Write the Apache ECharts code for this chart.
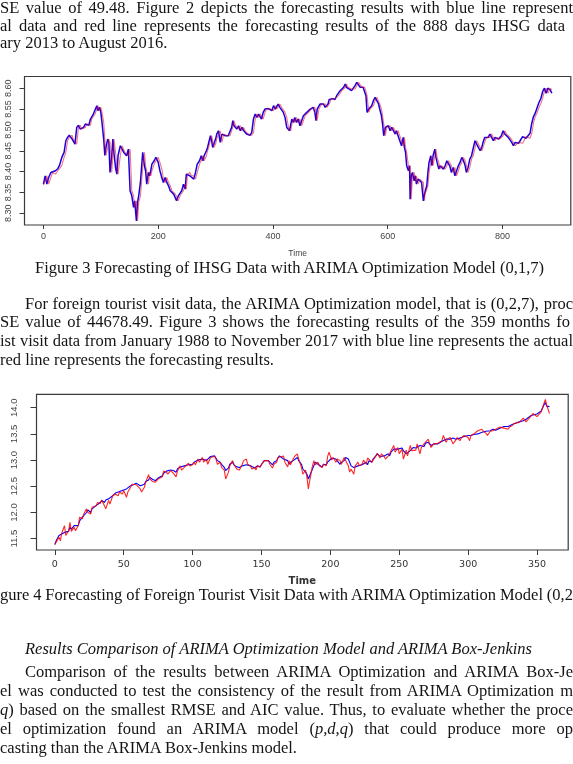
<!DOCTYPE html>
<html>
<head>
<meta charset="utf-8">
<script src="https://cdn.jsdelivr.net/npm/echarts@6/dist/echarts.min.js"></script>
<style>
  html, body { margin: 0; padding: 0; background: #fff; }
  #page { position: relative; width: 573px; height: 764px; overflow: hidden; background: #fff; }
  #chart { position: absolute; left: 0; top: 0; width: 573px; height: 764px; }
  .ln { position: absolute; white-space: pre; font: 16.5px/1 "Liberation Serif", "Times New Roman", serif; color: #141414; }
  .it { font-style: italic; }
</style>
</head>
<body>
<div id="page">
  <div id="chart"></div>
</div>
<script>
// IHSG (log) - day index, actual (blue), forecast (red)
var days1 = [
  0,3,6,9,13,16,21,25,28,32,
  36,39,42,45,50,52,55,58,61,64,
  67,70,73,76,79,82,84,87,90,93,
  95,98,100,102,105,107,109,112,114,116,
  119,121,123,126,128,130,134,137,140,142,
  145,148,151,154,157,159,162,164,166,169,
  171,173,176,178,180,183,185,187,189,193,
  196,200,203,207,209,212,215,218,221,224,
  227,230,232,235,238,241,244,247,249,251,
  255,258,262,
  265,268,272,275,278,280,284,286,288,291,
  293,295,297,300,302,305,308,311,314,317,
  320,322,325,328,330,332,335,337,340,343,
  346,349,351,354,357,360,363,366,369,372,
  375,378,380,383,386,389,392,395,398,401,
  404,407,409,412,415,418,421,424,427,429,
  431,433,436,438,441,444,447,450,453,456,
  459,462,465,467,470,473,475,477,480,482,
  485,488,491,494,496,498,501,504,508,511,
  514,517,520,523,526,528,531,
  537,540,543,546,549,552,555,557,560,562,
  564,567,569,572,575,578,581,584,586,589,
  591,593,596,598,601,604,607,610,613,615,
  618,621,624,627,629,631,633,636,638,639,
  641,643,646,648,650,653,656,659,662,664,
  665,668,670,672,675,677,679,682,684,686,
  689,691,694,697,700,703,706,708,711,714,
  717,720,723,726,729,732,735,737,740,743,
  746,749,752,755,758,761,764,766,769,772,
  775,778,781,784,787,790,793,795,798,801,
  804,807,810,813,816,819,822,828,835,841,
  848,851,854,857,860,863,867,870,873,876,
  879,883,886
];
var actual1 = [
  8.370,8.390,8.370,8.386,8.398,8.394,8.402,8.407,8.415,8.434,
  8.446,8.474,8.482,8.487,8.478,8.482,8.466,8.506,8.511,8.502,
  8.498,8.506,8.514,8.518,8.511,8.526,8.530,8.538,8.542,8.558,
  8.546,8.554,8.542,8.518,8.478,8.439,8.458,8.478,8.470,8.398,
  8.438,8.478,8.442,8.406,8.394,8.438,8.462,8.466,8.446,8.450,
  8.438,8.454,8.354,8.342,8.314,8.330,8.282,8.326,8.342,8.374,
  8.410,8.446,8.414,8.402,8.370,8.398,8.390,8.402,8.418,8.426,
  8.434,8.422,8.402,8.382,8.374,8.386,8.374,8.366,8.354,8.358,
  8.346,8.350,8.330,8.342,8.346,8.354,8.370,8.358,8.394,8.398,
  8.390,8.390,8.382,
  8.398,8.418,8.426,8.438,8.426,8.438,8.450,8.458,8.462,8.486,
  8.474,8.458,8.466,8.478,8.490,8.498,8.470,8.490,8.494,8.486,
  8.482,8.486,8.490,8.506,8.522,8.510,8.514,8.502,8.510,8.498,
  8.506,8.498,8.494,8.490,8.486,8.487,8.494,8.526,8.538,8.530,
  8.538,8.534,8.526,8.542,8.550,8.546,8.551,8.554,8.546,8.558,
  8.550,8.554,8.562,8.554,8.550,8.542,8.530,8.506,8.510,8.498,
  8.514,8.526,8.518,8.530,8.518,8.526,8.510,8.522,8.534,8.538,
  8.542,8.542,8.550,8.546,8.554,8.542,8.522,8.550,8.554,8.562,
  8.558,8.562,8.554,8.550,8.562,8.573,8.569,8.575,8.573,8.582,
  8.586,8.594,8.596,8.602,8.610,8.602,8.598,
  8.594,8.598,8.606,8.614,8.610,8.602,8.606,8.602,8.598,8.582,
  8.542,8.550,8.554,8.558,8.570,8.578,8.574,8.562,8.550,8.534,
  8.514,8.486,8.506,8.502,8.510,8.498,8.506,8.502,8.490,8.498,
  8.486,8.474,8.462,8.482,8.458,8.446,8.414,8.402,8.414,8.334,
  8.390,8.398,8.378,8.390,8.370,8.382,8.378,8.374,8.330,8.346,
  8.342,8.366,8.398,8.422,8.438,8.414,8.438,8.454,8.434,8.422,
  8.406,8.414,8.418,8.406,8.414,8.426,8.422,8.414,8.398,8.410,
  8.390,8.402,8.414,8.422,8.434,8.426,8.414,8.398,8.410,8.430,
  8.438,8.442,8.474,8.466,8.462,8.450,8.458,8.470,8.482,8.486,
  8.482,8.490,8.482,8.474,8.482,8.482,8.478,8.482,8.486,8.498,
  8.490,8.486,8.482,8.478,8.470,8.462,8.470,8.468,8.484,8.480,
  8.492,8.516,8.532,8.540,8.552,8.564,8.576,8.592,8.600,8.588,
  8.600,8.596,8.588
];
var forecast1 = [
  8.368,8.370,8.390,8.370,8.386,8.398,8.394,8.402,8.407,8.415,
  8.434,8.446,8.474,8.482,8.487,8.478,8.482,8.466,8.506,8.511,
  8.502,8.498,8.506,8.514,8.518,8.511,8.526,8.530,8.538,8.542,
  8.558,8.546,8.554,8.542,8.518,8.478,8.439,8.458,8.478,8.470,
  8.398,8.438,8.478,8.442,8.406,8.394,8.438,8.462,8.466,8.446,
  8.450,8.438,8.454,8.354,8.342,8.314,8.330,8.282,8.326,8.342,
  8.374,8.410,8.446,8.414,8.402,8.370,8.398,8.390,8.402,8.418,
  8.426,8.434,8.422,8.402,8.382,8.374,8.386,8.374,8.366,8.354,
  8.358,8.346,8.350,8.330,8.342,8.346,8.354,8.370,8.358,8.394,
  8.398,8.390,8.390,
  8.382,8.398,8.418,8.426,8.438,8.426,8.438,8.450,8.458,8.462,
  8.486,8.474,8.458,8.466,8.478,8.490,8.498,8.470,8.490,8.494,
  8.486,8.482,8.486,8.490,8.506,8.522,8.510,8.514,8.502,8.510,
  8.498,8.506,8.498,8.494,8.490,8.486,8.487,8.494,8.526,8.538,
  8.530,8.538,8.534,8.526,8.542,8.550,8.546,8.551,8.554,8.546,
  8.558,8.550,8.554,8.562,8.554,8.550,8.542,8.530,8.506,8.510,
  8.498,8.514,8.526,8.518,8.530,8.518,8.526,8.510,8.522,8.534,
  8.538,8.542,8.542,8.550,8.546,8.554,8.542,8.522,8.550,8.554,
  8.562,8.558,8.562,8.554,8.550,8.562,8.573,8.569,8.575,8.573,
  8.582,8.586,8.594,8.596,8.602,8.610,8.602,
  8.598,8.594,8.598,8.606,8.614,8.610,8.602,8.606,8.602,8.598,
  8.582,8.542,8.550,8.554,8.558,8.570,8.578,8.574,8.562,8.550,
  8.534,8.514,8.486,8.506,8.502,8.510,8.498,8.506,8.502,8.490,
  8.498,8.486,8.474,8.462,8.482,8.458,8.446,8.414,8.402,8.414,
  8.334,8.390,8.398,8.378,8.390,8.370,8.382,8.378,8.374,8.330,
  8.346,8.342,8.366,8.398,8.422,8.438,8.414,8.438,8.454,8.434,
  8.422,8.406,8.414,8.418,8.406,8.414,8.426,8.422,8.414,8.398,
  8.410,8.390,8.402,8.414,8.422,8.434,8.426,8.414,8.398,8.410,
  8.430,8.438,8.442,8.474,8.466,8.462,8.450,8.458,8.470,8.482,
  8.486,8.482,8.490,8.482,8.474,8.482,8.482,8.478,8.482,8.486,
  8.498,8.490,8.486,8.482,8.478,8.470,8.462,8.470,8.468,8.484,
  8.480,8.492,8.516,8.532,8.540,8.552,8.564,8.576,8.592,8.600,
  8.588,8.600,8.596
];

// foreign tourist visits (log) - month index, actual (blue), forecast (red)
var months2 = [
  0,1,3,4,5,7,8,10,11,12,
  14,15,17,18,20,21,23,24,26,27,
  28,30,31,33,34,36,37,39,40,42,
  43,44,46,47,49,50,52,53,55,56,
  57,59,60,62,63,65,66,68,69,71,
  72,73,75,76,78,79,81,82,84,85,
  86,88,89,91,92,94,95,97,98,100,
  101,102,104,105,107,108,110,111,113,114,
  116,117,118,120,121,123,124,126,127,129,
  130,132,133,134,136,137,139,140,142,143,
  145,146,147,149,150,152,153,155,156,158,
  159,161,162,163,
  166,167,169,170,171,173,174,176,177,179,
  180,182,183,184,185,187,188,189,191,192,
  194,195,197,198,199,201,202,204,205,207,
  208,210,211,213,214,215,217,218,220,221,
  223,224,226,227,228,230,231,233,234,236,
  237,239,240,242,243,244,246,247,249,250,
  252,253,255,256,258,259,260,262,263,265,
  266,268,269,271,272,273,275,276,278,279,
  281,282,284,285,287,288,289,291,292,294,
  295,297,298,300,301,302,304,305,307,308,
  310,311,313,314,316,317,318,320,321,323,
  324,326,327,329,330,332,333,
  334,337,340,342,345,347,350,353,355,356,
  357,359
];
var actual2 = [
  11.39,11.46,11.56,11.53,11.59,11.62,11.60,11.64,11.72,11.68,
  11.75,11.72,11.75,11.84,11.91,11.94,12.00,12.05,12.00,12.07,
  12.10,12.13,12.16,12.19,12.23,12.19,12.24,12.26,12.23,12.32,
  12.35,12.37,12.39,12.37,12.42,12.43,12.45,12.46,12.51,12.54,
  12.53,12.56,12.56,12.51,12.48,12.54,12.59,12.62,12.67,12.63,
  12.64,12.61,12.66,12.68,12.70,12.75,12.79,12.77,12.81,12.83,
  12.80,12.77,12.83,12.87,12.86,12.89,12.87,12.91,12.94,12.92,
  12.96,12.99,13.00,12.99,13.02,13.05,12.99,13.02,13.07,13.04,
  13.08,13.07,12.99,12.96,12.92,12.86,12.80,12.85,12.92,12.96,
  12.91,12.87,12.89,12.86,12.89,12.89,12.91,12.94,12.89,12.87,
  12.85,12.86,12.89,12.87,12.92,12.99,13.00,12.99,12.96,12.91,
  12.96,12.99,13.04,13.08,
  13.02,13.05,12.99,12.92,12.96,12.99,13.02,13.05,12.99,12.92,
  12.83,12.77,12.73,12.64,12.67,12.83,12.89,12.96,12.92,12.89,
  12.87,12.92,12.91,12.96,12.99,13.04,13.07,13.02,12.99,12.92,
  12.96,12.99,13.05,13.02,12.96,12.89,12.86,12.87,12.89,12.92,
  12.91,12.94,12.96,12.91,12.99,12.96,13.02,13.08,13.12,13.07,
  13.05,13.08,13.05,13.12,13.08,13.15,13.21,13.24,13.21,13.19,
  13.23,13.18,13.12,13.15,13.18,13.21,13.24,13.23,13.26,13.28,
  13.31,13.26,13.32,13.34,13.31,13.28,13.31,13.29,13.31,13.32,
  13.36,13.37,13.40,13.42,13.40,13.38,13.42,13.40,13.43,13.42,
  13.43,13.45,13.42,13.47,13.45,13.47,13.49,13.47,13.50,13.51,
  13.53,13.51,13.55,13.53,13.56,13.57,13.59,13.57,13.59,13.61,
  13.63,13.64,13.61,13.64,13.66,13.68,13.69,
  13.70,13.73,13.75,13.78,13.84,13.86,13.88,13.94,14.05,14.10,
  14.03,14.02
];
var forecast2 = [
  11.39,11.40,11.53,11.46,11.60,11.75,11.56,11.65,11.81,11.64,
  11.72,11.65,11.75,11.91,11.88,11.97,12.07,12.00,11.97,12.10,
  12.07,12.13,12.19,12.17,12.24,12.13,12.07,12.23,12.16,12.32,
  12.29,12.35,12.32,12.39,12.35,12.42,12.29,12.39,12.48,12.54,
  12.56,12.53,12.54,12.45,12.39,12.48,12.58,12.72,12.64,12.59,
  12.62,12.58,12.64,12.67,12.68,12.79,12.77,12.73,12.80,12.83,
  12.75,12.68,12.79,12.89,12.81,12.86,12.89,12.94,12.89,12.91,
  12.96,12.91,13.02,12.96,13.05,12.96,13.02,12.92,13.05,13.08,
  13.07,13.02,12.92,12.96,12.86,12.81,12.64,12.77,12.89,12.99,
  12.92,12.83,12.86,12.81,12.92,12.99,13.02,12.92,12.89,12.83,
  12.86,12.81,12.89,12.87,12.91,12.99,13.02,12.99,12.92,12.85,
  12.92,12.96,13.05,13.07,
  13.08,12.96,12.87,12.99,12.91,13.02,13.07,13.12,13.02,12.86,
  12.73,12.81,12.67,12.45,12.61,12.89,12.99,12.91,12.96,12.89,
  12.86,12.92,12.89,13.07,13.15,13.00,13.05,12.96,13.02,12.99,
  12.92,13.05,13.08,12.89,12.77,12.83,12.73,12.89,12.96,12.89,
  12.92,13.00,12.92,13.04,13.05,12.96,12.99,13.08,13.13,13.04,
  13.12,13.07,13.02,13.08,13.12,13.18,13.28,13.15,13.24,13.12,
  13.21,13.02,13.19,13.08,13.28,13.18,13.21,13.19,13.31,13.12,
  13.24,13.31,13.34,13.40,13.32,13.24,13.31,13.28,13.32,13.29,
  13.37,13.47,13.34,13.40,13.43,13.37,13.31,13.38,13.43,13.37,
  13.42,13.47,13.50,13.43,13.37,13.47,13.50,13.53,13.56,13.53,
  13.59,13.55,13.51,13.47,13.55,13.57,13.56,13.59,13.57,13.63,
  13.66,13.61,13.64,13.59,13.63,13.66,13.70,
  13.67,13.72,13.80,13.73,13.82,13.89,13.83,13.92,14.08,14.16,
  14.05,13.89
];

// tick labels
var xTicks1 = [0, 200, 400, 600, 800];
var yTicks1 = [8.30, 8.35, 8.40, 8.45, 8.50, 8.55, 8.60];
var xTicks2 = [0, 50, 100, 150, 200, 250, 300, 350];
var yTicks2 = [11.5, 12.0, 12.5, 13.0, 13.5, 14.0];

// page text: left edge, right edge (null = natural width), baseline
var textLines = [
  { x0: 0, x1: 573, y: 14, html: 'SE value of 49.48. Figure 2 depicts the forecasting results with blue line represent' },
  { x0: 0, x1: 565, y: 31.5, html: 'al data and red line represents the forecasting results of the 888 days IHSG data' },
  { x0: 0, x1: null, y: 49, html: 'ary 2013 to August 2016.' },
  { x0: 35, x1: 544, y: 273.5, html: 'Figure 3 Forecasting of IHSG Data with ARIMA Optimization Model (0,1,7)' },
  { x0: 25, x1: 573, y: 309.5, html: 'For foreign tourist visit data, the ARIMA Optimization model, that is (0,2,7), proc' },
  { x0: 0, x1: 570, y: 328, html: 'SE value of 44678.49. Figure 3 shows the forecasting results of the 359 months fo' },
  { x0: 0, x1: 573, y: 347, html: 'ist visit data from January 1988 to November 2017 with blue line represents the actual' },
  { x0: 0, x1: null, y: 365.5, html: 'red line represents the forecasting results.' },
  { x0: 0, x1: 573, y: 601, html: 'gure 4 Forecasting of Foreign Tourist Visit Data with ARIMA Optimization Model (0,2' },
  { x0: 25, x1: 532, y: 655, it: true, html: 'Results Comparison of ARIMA Optimization Model and ARIMA Box-Jenkins' },
  { x0: 25, x1: 573, y: 678, html: 'Comparison of the results between ARIMA Optimization and ARIMA Box-Je' },
  { x0: 0, x1: 573, y: 697, html: 'el was conducted to test the consistency of the result from ARIMA Optimization m' },
  { x0: 0, x1: 573, y: 715.5, html: '<i>q</i>) based on the smallest RMSE and AIC value. Thus, to evaluate whether the proce' },
  { x0: 0, x1: 573, y: 735, html: 'el optimization found an ARIMA model (<i>p,d,q</i>) that could produce more op' },
  { x0: 0, x1: null, y: 753.5, html: 'casting than the ARIMA Box-Jenkins model.' }
];

var page = document.getElementById('page');
textLines.forEach(function (l) {
  var d = document.createElement('div');
  d.className = 'ln' + (l.it ? ' it' : '');
  d.innerHTML = l.html;
  d.style.left = l.x0 + 'px';
  d.style.top = (l.y - 13.8) + 'px';
  page.appendChild(d);
  if (l.x1) {
    var w = d.getBoundingClientRect().width;
    var n = (d.textContent.match(/ /g) || []).length;
    if (n) d.style.wordSpacing = ((l.x1 - l.x0 - w) / n) + 'px';
  }
});

function pairs(xs, ys) {
  return xs.map(function (x, i) { return [x, ys[i]]; });
}

var axisCol = '#3a3a3a';
var chart = echarts.init(document.getElementById('chart'));
chart.setOption({
  animation: false,
  grid: [
    { left: 24.5, top: 76.5, width: 546.3, height: 148.5, show: true, borderColor: axisCol, borderWidth: 1.2 },
    { left: 36.5, top: 394.3, width: 531.7, height: 155.7, show: true, borderColor: axisCol, borderWidth: 1.2 }
  ],
  xAxis: [
    {
      gridIndex: 0, type: 'value', min: -33, max: 919,
      axisLine: { show: false, onZero: false }, splitLine: { show: false },
      axisTick: { show: true, length: 4, customValues: xTicks1, lineStyle: { color: axisCol } },
      axisLabel: { customValues: xTicks1, margin: 7, fontSize: 9, color: '#444', fontFamily: 'Liberation Sans' },
      name: 'Time', nameLocation: 'middle', nameGap: 24,
      nameTextStyle: { fontSize: 8.5, color: '#444', fontFamily: 'Liberation Sans' }
    },
    {
      gridIndex: 1, type: 'value', min: -13.3, max: 372.6,
      axisLine: { show: false, onZero: false }, splitLine: { show: false },
      axisTick: { show: true, length: 5, customValues: xTicks2, lineStyle: { color: axisCol } },
      axisLabel: { customValues: xTicks2, margin: 9.5, fontSize: 9.5, color: '#333', fontFamily: 'DejaVu Sans' },
      name: 'Time', nameLocation: 'middle', nameGap: 26.5,
      nameTextStyle: { fontSize: 10, color: '#333', fontWeight: 'bold', fontFamily: 'DejaVu Sans' }
    }
  ],
  yAxis: [
    {
      gridIndex: 0, type: 'value', min: 8.272, max: 8.628,
      axisLine: { show: false, onZero: false }, splitLine: { show: false },
      axisTick: { show: true, length: 5, customValues: yTicks1, lineStyle: { color: axisCol } },
      axisLabel: {
        customValues: yTicks1, rotate: 90, margin: 11, fontSize: 9, color: '#444', fontFamily: 'Liberation Sans',
        formatter: function (v) { return v.toFixed(2); }
      }
    },
    {
      gridIndex: 1, type: 'value', min: 11.284, max: 14.256,
      axisLine: { show: false, onZero: false }, splitLine: { show: false },
      axisTick: { show: true, length: 6, customValues: yTicks2, lineStyle: { color: axisCol } },
      axisLabel: {
        customValues: yTicks2, rotate: 90, margin: 17, fontSize: 9.5, color: '#444', fontFamily: 'Liberation Sans',
        formatter: function (v) { return v.toFixed(1); }
      }
    }
  ],
  series: [
    {
      name: 'Actual', type: 'line', xAxisIndex: 0, yAxisIndex: 0, data: pairs(days1, actual1),
      showSymbol: false, silent: true, lineStyle: { color: '#1a00e0', width: 1.5 }
    },
    {
      name: 'Forecast', type: 'line', xAxisIndex: 0, yAxisIndex: 0, data: pairs(days1, forecast1),
      showSymbol: false, silent: true, lineStyle: { color: '#e00020', width: 1.1, opacity: 0.55 }
    },
    {
      name: 'Actual', type: 'line', xAxisIndex: 1, yAxisIndex: 1, data: pairs(months2, actual2),
      showSymbol: false, silent: true, lineStyle: { color: '#0000ff', width: 1.1 }
    },
    {
      name: 'Forecast', type: 'line', xAxisIndex: 1, yAxisIndex: 1, data: pairs(months2, forecast2),
      showSymbol: false, silent: true, lineStyle: { color: '#ff0000', width: 1.1, opacity: 0.85 }
    }
  ]
});
</script>
</body>
</html>
